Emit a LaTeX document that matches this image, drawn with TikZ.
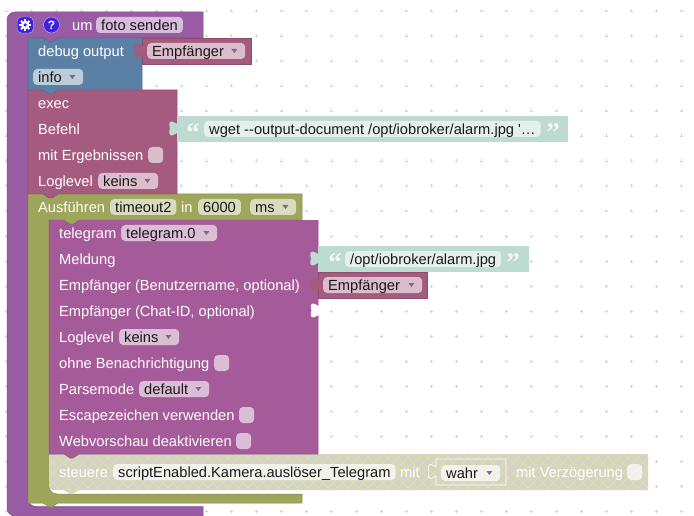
\documentclass[tikz,border=0pt]{standalone}
\usepackage{fontspec}
\setmainfont{Liberation Sans}
\newfontfamily\quotefont{Liberation Serif}
\newfontfamily\plainfont{Liberation Sans}
\usepackage{tikz}
\definecolor{procpurple}{HTML}{9A5BA5}
\definecolor{telepurple}{HTML}{A55B99}
\definecolor{execred}{HTML}{A55B80}
\definecolor{debugblue}{HTML}{5B80A5}
\definecolor{timerolive}{HTML}{9FA55B}
\definecolor{stringgreen}{HTML}{BEDBD1}
\definecolor{hatchgrey}{HTML}{D2D2CE}
\definecolor{hatchyellow}{HTML}{E8E482}
\definecolor{dropgrey}{HTML}{77717F}
\definecolor{iconblue}{HTML}{3F22E0}
\tikzset{
	block/.style={fill=#1,draw=#1!85!black,line width=.5pt},
	griddot/.style={draw=black!17,line width=.5pt},
	lbl/.style={anchor=base west,inner sep=0,yshift=-5.5pt,text=white,font=\fontsize{14.67}{17}\selectfont},
	fieldbox/.style={anchor=west,fill=white,fill opacity=.6,text opacity=1,rounded corners=4pt,inner ysep=0,inner xsep=5pt,minimum height=16pt,text height=12.5pt,text depth=1.5pt,text=black!90,font=\fontsize{14.67}{17}\selectfont},
	checkbox/.style={anchor=west,fill=white,fill opacity=.6,rounded corners=4pt,inner sep=0,minimum width=15pt,minimum height=16pt},
	quotemark/.style={inner sep=0,text=white,text opacity=.8,font=\fontsize{27}{27}\bfseries\quotefont},
	pics/puzzletab/.style={code={\fill[#1] (0,8) .. controls (-1,8) and (-2,6) .. (-5,5.5) .. controls (-8.5,5.5) and (-8,9) .. (-7,12.5) .. controls (-8,16) and (-8.5,19.5) .. (-5,19.5) .. controls (-2,19) and (-1,17) .. (0,17) -- (1,17) -- (1,8) -- cycle;}},
	pics/droptri/.style={code={\fill[#1] (-3,-2) -- (3,-2) -- (0,2) -- cycle;}},
}

\begin{document}
\begin{tikzpicture}[x=1pt,y=-1pt]

	\useasboundingbox [fill=white] (0,0) rectangle (694,516);
	%% Grid %%
	\foreach \x in {6,31,...,681} \foreach \y in {11,36,...,511} {
		\draw [griddot] (\x-1.5,\y) -- (\x+1.5,\y) (\x,\y-1.5) -- (\x,\y+1.5);
	}
	%% Outer Function Block %%
	\draw [block=procpurple] (203,12) -- (203,38) -- (58,38) -- (52,42) -- (49,42) -- (43,38) -- (28,38) [rounded corners=8pt] -- (28,506.5) -- (60,506.5) [sharp corners] -- (203,506.5) -- (203,516) [rounded corners=8pt] -- (7,516) -- (7,12) -- (40,12) [sharp corners] -- cycle;
	\node [checkbox,fill=iconblue,fill opacity=1,draw=white!70!iconblue,minimum width=16pt] (gearicon) at (17,25) {};
	\fill [white] (gearicon.center) circle (4.2);
	\foreach \a in {0,45,...,315} \draw [white,line width=2pt] (gearicon.center) -- ++(\a:5.8);
	\fill [iconblue] (gearicon.center) circle (1.8);
	\node [circle,fill=iconblue,draw=white!70!iconblue,minimum size=16pt,inner sep=0,text=white,font=\fontsize{12}{12}\bfseries\selectfont] (helpicon) at (51.5,25) {?};
	\node [lbl] (umlabel) at (72,25) {um};
	\node [fieldbox] (fotofield) at (96,25) {foto senden};
	%% Ausfuehren Block %%
	\draw [block=timerolive] (28,194) -- (43,194) -- (49,198) -- (52,198) -- (58,194) -- (302,194) -- (302,220) -- (79,220) -- (73,224) -- (70,224) -- (64,220) -- (49,220) [rounded corners=8pt] -- (49,494) -- (80,494) [sharp corners] -- (302,494) -- (302,503) -- (58,503) -- (52,507) -- (49,507) -- (43,503) -- (28,503) -- cycle;
	\node [lbl] (timerlabel) at (38,207) {Ausführen};
	\node [fieldbox] (timerfield) at (110,207) {timeout2};
	\node [lbl] (inlabel) at (181,207) {in};
	\node [fieldbox] (delayfield) at (198,207) {6000};
	\node [fieldbox,minimum width=46pt,text width=36pt] (unitfield) at (250,207) {ms};
	\pic at (unitfield.east) [xshift=-11pt] {droptri=dropgrey};
	%% Disabled Steuere Block %%
	\begin{scope}
		\clip (49,454) -- (648,454) -- (648,490) -- (79,490) -- (73,494) -- (70,494) -- (64,490) [rounded corners=4pt] -- (49,490) [sharp corners] -- cycle;
		\fill [hatchgrey] (45,450) rectangle (650,496);
		\foreach \d in {0,10,...,650} {
			\draw [hatchyellow,line width=.7pt] (\d,450) -- ++(46,46);
			\draw [hatchyellow,line width=.7pt] (\d,496) -- ++(46,-46);
		}
	\end{scope}
	\node [lbl] (steuerelabel) at (59,472) {steuere};
	\node [fieldbox,fill opacity=.7] (statefield) at (113,472) {scriptEnabled.Kamera.auslöser\_Telegram};
	\node [lbl] (mitlabel) at (400,472) {mit};
	\draw [white,line width=.7pt] (436,467) -- (436,459) -- (506,459) -- (506,485) -- (436,485) -- (436,476) .. controls (435,476) and (434,478) .. (431,478.5) .. controls (427.5,478.5) and (428,475) .. (429,471.5) .. controls (428,468) and (427.5,464.5) .. (431,464.5) .. controls (434,465) and (435,467) .. (436,467);
	\node [fieldbox,fill opacity=.7,minimum width=59pt,text width=49pt] (wahrfield) at (441,473) {wahr};
	\pic at (wahrfield.east) [xshift=-11pt] {droptri=dropgrey};
	\node [lbl] (delaylabel) at (516,472) {mit Verzögerung};
	\node [checkbox,fill opacity=.7] (delaycheck) at (627,472) {};
	%% Telegram Block %%
	\draw [block=telepurple] (49,220.5) -- (64,220.5) -- (70,224.5) -- (73,224.5) -- (79,220.5) -- (318,220.5) -- (318,454) -- (79,454) -- (73,458) -- (70,458) -- (64,454) -- (49,454) -- cycle;
	\node [lbl] (telelabel) at (59,233) {telegram};
	\node [fieldbox,minimum width=96pt,text width=86pt] (telefield) at (121,233) {telegram.0};
	\pic at (telefield.east) [xshift=-11pt] {droptri=dropgrey};
	\node [lbl] (meldunglabel) at (59,259) {Meldung};
	\node [lbl] (userlabel) at (59,285) {Empfänger (Benutzername, optional)};
	\node [lbl] (chatlabel) at (59,311) {Empfänger (Chat-ID, optional)};
	\node [lbl] (loglabel) at (59,337) {Loglevel};
	\node [fieldbox,minimum width=60pt,text width=50pt] (logfield) at (119,337) {keins};
	\pic at (logfield.east) [xshift=-11pt] {droptri=dropgrey};
	\node [lbl] (silentlabel) at (59,363) {ohne Benachrichtigung};
	\node [checkbox] (silentcheck) at (214,363) {};
	\node [lbl] (parselabel) at (59,389) {Parsemode};
	\node [fieldbox,minimum width=70pt,text width=60pt] (parsefield) at (139,389) {default};
	\pic at (parsefield.east) [xshift=-11pt] {droptri=dropgrey};
	\node [lbl] (escapelabel) at (59,415) {Escapezeichen verwenden};
	\node [checkbox] (escapecheck) at (239,415) {};
	\node [lbl] (previewlabel) at (59,441) {Webvorschau deaktivieren};
	\node [checkbox] (previewcheck) at (236,441) {};
	\pic at (318.5,298) {puzzletab=white};
	%% Exec Block %%
	\draw [block=execred] (28,90) -- (177,90) -- (177,194) -- (58,194) -- (52,198) -- (49,198) -- (43,194) -- (28,194) -- cycle;
	\node [lbl] (execlabel) at (38,103) {exec};
	\node [lbl] (befehllabel) at (38,129) {Befehl};
	\node [lbl] (resultlabel) at (38,155) {mit Ergebnissen};
	\node [checkbox] (resultcheck) at (148,155) {};
	\node [lbl] (execloglabel) at (38,181) {Loglevel};
	\node [fieldbox,minimum width=60pt,text width=50pt] (execlogfield) at (98,181) {keins};
	\pic at (execlogfield.east) [xshift=-11pt] {droptri=dropgrey};
	%% Debug Block %%
	\draw [block=debugblue] (28,38) -- (43,38) -- (49,42) -- (52,42) -- (58,38) -- (142,38) -- (142,90) -- (58,90) -- (52,94) -- (49,94) -- (43,90) -- (28,90) -- cycle;
	\node [lbl] (debuglabel) at (38,51) {debug output};
	\node [fieldbox,minimum width=50pt,text width=40pt] (infofield) at (33,77) {info};
	\pic at (infofield.east) [xshift=-11pt] {droptri=dropgrey};
	%% Empfaenger Blocks %%
	\draw [block=execred] (142,38) rectangle (251.5,64);
	\pic at (142,38) {puzzletab=execred};
	\node [fieldbox,minimum width=98pt,text width=88pt] (destfield) at (147,51) {Empfänger};
	\pic at (destfield.east) [xshift=-11pt] {droptri=dropgrey};
	\draw [block=execred] (318,272) rectangle (427.5,298);
	\pic at (318,272) {puzzletab=execred};
	\node [fieldbox,minimum width=99pt,text width=89pt] (userfield) at (323,285) {Empfänger};
	\pic at (userfield.east) [xshift=-11pt] {droptri=dropgrey};
	%% String Blocks %%
	\fill [stringgreen] (177,116) rectangle (568,142);
	\pic at (177,116) {puzzletab=stringgreen};
	\node [quotemark] (cmdopen) at (193,133) {“};
	\node [fieldbox,minimum width=336pt] (cmdfield) at (204,129) {\plainfont wget --output-document /opt/iobroker/alarm.jpg '…};
	\node [quotemark] (cmdclose) at (553,133) {”};
	\fill [stringgreen] (318,246) rectangle (529,272);
	\pic at (318,246) {puzzletab=stringgreen};
	\node [quotemark] (pathopen) at (335,263) {“};
	\node [fieldbox] (pathfield) at (345,259) {/opt/iobroker/alarm.jpg};
	\node [quotemark] (pathclose) at (513,263) {”};

\end{tikzpicture}
\end{document}
